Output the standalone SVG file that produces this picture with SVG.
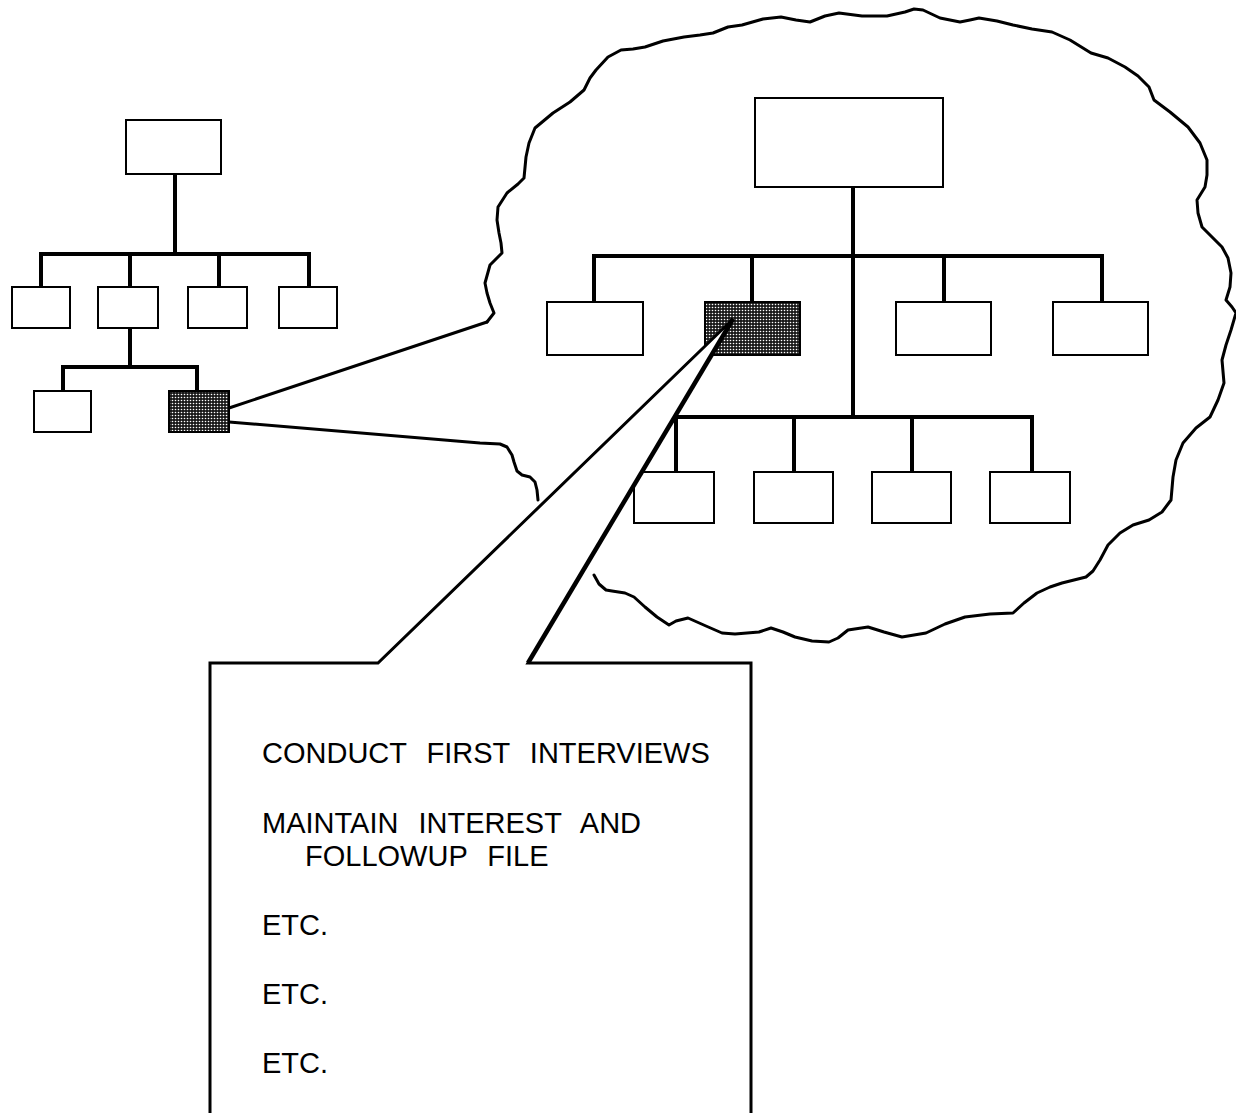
<svg xmlns="http://www.w3.org/2000/svg" width="1236" height="1113" viewBox="0 0 1236 1113">
<style>
.box{fill:#fff;stroke:#000;stroke-width:2}
.shaded{fill:url(#dots);stroke:#000;stroke-width:2}
.conn{fill:none;stroke:#000;stroke-width:4;stroke-linecap:square}
.wave{fill:none;stroke:#000;stroke-width:3;stroke-linejoin:round;stroke-linecap:round}
.txt{font-family:"Liberation Sans",Arial,sans-serif;font-size:29px;fill:#000;word-spacing:12px}
</style>
<defs>
<pattern id="dots" width="3" height="3" patternUnits="userSpaceOnUse">
<rect width="3" height="3" fill="#1a1a1a"/>
<circle cx="1.5" cy="1.5" r="0.8" fill="#fff"/>
</pattern>
</defs>
<g id="connectors">
<path class="conn" d="M175 174 V254 M41 254 H309 M41 254 V287 M130 254 V287 M219 254 V287 M309 254 V287"/>
<path class="conn" d="M130 328 V367 M63 367 H197 M63 367 V391 M197 367 V391"/>
<path class="conn" d="M853 187 V417 M594 256 H1102 M594 256 V302 M752 256 V302 M944 256 V302 M1102 256 V302"/>
<path class="conn" d="M676 417 H1032 M676 417 V472 M794 417 V472 M912 417 V472 M1032 417 V472"/>
<path class="wave" d="M229 408 L487 322"/>
<path class="wave" d="M229 422 L480 443 L500 444 L507 447 L512 455 L514 462 L517 471 L522 475 L530 477 L535 482 L537 490 L538 500"/>
</g>
<g id="cloud">
<path class="wave" d="M487 322 L494 313 L490 303 L487 293 L485 283 L490 265 L502 253 L501 243 L499 233 L497 220 L498 207 L507 193 L518 184 L524 178 L526 157 L529 143 L535 128 L553 113 L570 102 L584 90 L590 78 L596 70 L608 57 L621 50 L633 49 L645 47 L663 41 L684 37 L700 35 L713 33 L728 27 L742 25 L763 19 L781 17 L796 20 L810 22 L825 16 L839 13 L862 16 L880 16 L887 16 L905 12 L914 9 L923 10 L940 18 L960 22 L970 20 L979 18 L997 21 L1013 25 L1032 29 L1052 32 L1070 40 L1091 53 L1108 58 L1125 67 L1138 76 L1149 87 L1154 100 L1170 112 L1188 127 L1200 143 L1207 160 L1207 175 L1205 187 L1197 200 L1198 213 L1202 227 L1212 237 L1222 247 L1228 258 L1231 273 L1230 287 L1226 300 L1232 307 L1236 313 L1231 330 L1226 345 L1222 360 L1224 383 L1218 400 L1210 417 L1196 428 L1183 443 L1176 460 L1173 477 L1171 500 L1162 512 L1149 520 L1133 525 L1120 533 L1108 545 L1100 560 L1093 571 L1086 577 L1062 583 L1050 587 L1037 593 L1024 603 L1013 613 L990 614 L965 617 L945 624 L926 633 L902 637 L884 632 L868 627 L848 630 L838 638 L829 642 L812 641 L795 637 L783 632 L771 628 L759 632 L747 633 L735 634 L722 633 L706 626 L688 618 L676 621 L669 625 L657 617 L645 607 L634 597 L625 593 L612 591 L606 590 L599 584 L594 575"/>
</g>
<g id="small-root"><rect class="box" x="126" y="120" width="95" height="54"/></g>
<g id="small-c1"><rect class="box" x="12" y="287" width="58" height="41"/></g>
<g id="small-c2"><rect class="box" x="98" y="287" width="60" height="41"/></g>
<g id="small-c3"><rect class="box" x="188" y="287" width="59" height="41"/></g>
<g id="small-c4"><rect class="box" x="279" y="287" width="58" height="41"/></g>
<g id="small-g1"><rect class="box" x="34" y="391" width="57" height="41"/></g>
<g id="small-g2"><rect class="shaded" x="169" y="391" width="60" height="41"/></g>
<g id="big-root"><rect class="box" x="755" y="98" width="188" height="89"/></g>
<g id="big-c1"><rect class="box" x="547" y="302" width="96" height="53"/></g>
<g id="big-c2"><rect class="shaded" x="705" y="302" width="95" height="53"/></g>
<g id="big-c3"><rect class="box" x="896" y="302" width="95" height="53"/></g>
<g id="big-c4"><rect class="box" x="1053" y="302" width="95" height="53"/></g>
<g id="big-g1"><rect class="box" x="634" y="472" width="80" height="51"/></g>
<g id="big-g2"><rect class="box" x="754" y="472" width="79" height="51"/></g>
<g id="big-g3"><rect class="box" x="872" y="472" width="79" height="51"/></g>
<g id="big-g4"><rect class="box" x="990" y="472" width="80" height="51"/></g>
<g id="callout">
<path d="M210 1115 V663 H378 L733 319 L528 663 H751 V1115" fill="#fff" stroke="#000" stroke-width="3" stroke-linejoin="miter"/>
<path d="M733 319 L528 663" fill="none" stroke="#000" stroke-width="4.5"/>
<text class="txt" x="262" y="763">CONDUCT FIRST INTERVIEWS</text>
<text class="txt" x="262" y="833">MAINTAIN INTEREST AND</text>
<text class="txt" x="305" y="866">FOLLOWUP FILE</text>
<text class="txt" x="262" y="935">ETC.</text>
<text class="txt" x="262" y="1004">ETC.</text>
<text class="txt" x="262" y="1073">ETC.</text>
</g>
</svg>
